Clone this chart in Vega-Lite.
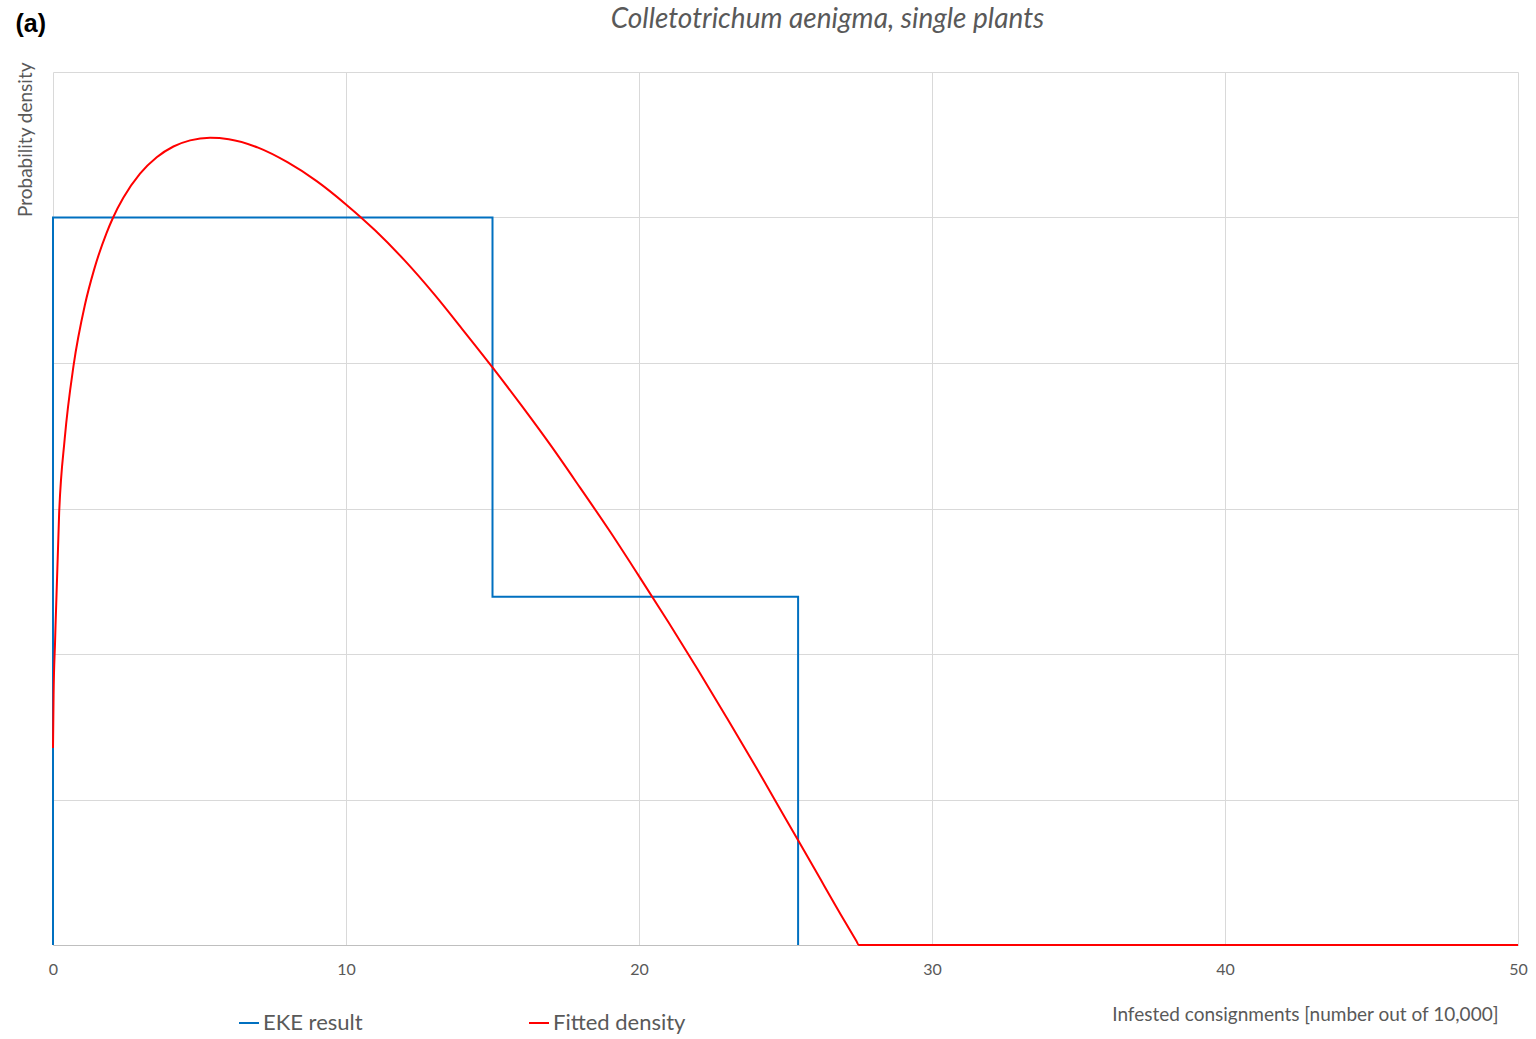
{
  "$schema": "https://vega.github.io/schema/vega-lite/v6.json",
  "width": 1465,
  "height": 873,
  "autosize": {"type": "none"},
  "padding": {"left": 53, "top": 72, "right": 18, "bottom": 94},
  "background": "white",
  "config": {"view": {"stroke": null}, "font": "Lato"},
  "title": {
    "text": "Colletotrichum aenigma, single plants",
    "font": "Lato",
    "fontStyle": "italic",
    "fontWeight": "normal",
    "fontSize": 28,
    "color": "#595959",
    "anchor": "middle",
    "baseline": "bottom",
    "dx": 42,
    "offset": -51
  },
  "datasets": {
    "curves": [
      {"series": "EKE result", "ord": 1, "x": 0, "y": 0},
      {"series": "EKE result", "ord": 2, "x": 0, "y": 5.0},
      {"series": "EKE result", "ord": 3, "x": 15, "y": 5.0},
      {"series": "EKE result", "ord": 4, "x": 15, "y": 2.394},
      {"series": "EKE result", "ord": 5, "x": 25.43, "y": 2.394},
      {"series": "EKE result", "ord": 6, "x": 25.43, "y": 0},
      {"series": "Fitted density", "ord": 1, "x": 0, "y": 1.354},
      {"series": "Fitted density", "ord": 2, "x": 0.02, "y": 1.72},
      {"series": "Fitted density", "ord": 3, "x": 0.07, "y": 2.08},
      {"series": "Fitted density", "ord": 4, "x": 0.21, "y": 2.97},
      {"series": "Fitted density", "ord": 5, "x": 0.4, "y": 3.48},
      {"series": "Fitted density", "ord": 6, "x": 0.7, "y": 3.98},
      {"series": "Fitted density", "ord": 7, "x": 1.09, "y": 4.4},
      {"series": "Fitted density", "ord": 8, "x": 1.4, "y": 4.64},
      {"series": "Fitted density", "ord": 9, "x": 1.83, "y": 4.895},
      {"series": "Fitted density", "ord": 10, "x": 2.04, "y": 4.995},
      {"series": "Fitted density", "ord": 11, "x": 2.4, "y": 5.135},
      {"series": "Fitted density", "ord": 12, "x": 2.97, "y": 5.301},
      {"series": "Fitted density", "ord": 13, "x": 3.54, "y": 5.414},
      {"series": "Fitted density", "ord": 14, "x": 4.11, "y": 5.488},
      {"series": "Fitted density", "ord": 15, "x": 4.68, "y": 5.53},
      {"series": "Fitted density", "ord": 16, "x": 5.36, "y": 5.548},
      {"series": "Fitted density", "ord": 17, "x": 6, "y": 5.538},
      {"series": "Fitted density", "ord": 18, "x": 7, "y": 5.48},
      {"series": "Fitted density", "ord": 19, "x": 8, "y": 5.38},
      {"series": "Fitted density", "ord": 20, "x": 9, "y": 5.25},
      {"series": "Fitted density", "ord": 21, "x": 10, "y": 5.09},
      {"series": "Fitted density", "ord": 22, "x": 11, "y": 4.91},
      {"series": "Fitted density", "ord": 23, "x": 12, "y": 4.705},
      {"series": "Fitted density", "ord": 24, "x": 13, "y": 4.475},
      {"series": "Fitted density", "ord": 25, "x": 14, "y": 4.225},
      {"series": "Fitted density", "ord": 26, "x": 15, "y": 3.97},
      {"series": "Fitted density", "ord": 27, "x": 16, "y": 3.705},
      {"series": "Fitted density", "ord": 28, "x": 17, "y": 3.43},
      {"series": "Fitted density", "ord": 29, "x": 18, "y": 3.14},
      {"series": "Fitted density", "ord": 30, "x": 19, "y": 2.845},
      {"series": "Fitted density", "ord": 31, "x": 20, "y": 2.535},
      {"series": "Fitted density", "ord": 32, "x": 21, "y": 2.22},
      {"series": "Fitted density", "ord": 33, "x": 22, "y": 1.895},
      {"series": "Fitted density", "ord": 34, "x": 23, "y": 1.56},
      {"series": "Fitted density", "ord": 35, "x": 24, "y": 1.22},
      {"series": "Fitted density", "ord": 36, "x": 25, "y": 0.87},
      {"series": "Fitted density", "ord": 37, "x": 26, "y": 0.52},
      {"series": "Fitted density", "ord": 38, "x": 27, "y": 0.17},
      {"series": "Fitted density", "ord": 39, "x": 27.42, "y": 0.027},
      {"series": "Fitted density", "ord": 40, "x": 27.5, "y": 0},
      {"series": "Fitted density", "ord": 41, "x": 50, "y": 0}
    ]
  },
  "data": {"name": "curves"},
  "resolve": {"axis": {"x": "independent"}},
  "layer": [
    {
      "transform": [{"filter": "datum.series === 'EKE result'"}],
      "mark": {"type": "line", "strokeWidth": 2, "clip": false},
      "encoding": {
        "x": {
          "field": "x", "type": "quantitative",
          "scale": {"domain": [0, 50], "nice": false, "zero": false},
          "axis": {
            "values": [0, 10, 20, 30, 40, 50],
            "grid": true, "gridColor": "#d9d9d9", "gridWidth": 1,
            "domain": true, "domainColor": "#bfbfbf", "domainWidth": 1,
            "ticks": false,
            "labelFont": "Lato", "labelFontSize": 16, "labelColor": "#595959",
            "labelPadding": 16, "labelFlush": false,
            "title": "Infested consignments [number out of 10,000]",
            "titleFont": "Lato", "titleFontSize": 19, "titleFontWeight": "normal",
            "titleColor": "#595959",
            "titleAnchor": null, "titleAlign": "right", "titleBaseline": "middle",
            "titleX": 1445, "titleY": 69
          }
        },
        "y": {
          "field": "y", "type": "quantitative",
          "scale": {"domain": [0, 6], "nice": false},
          "axis": {
            "values": [0, 1, 2, 3, 4, 5, 6],
            "grid": true, "gridColor": "#d9d9d9", "gridWidth": 1,
            "domain": false, "ticks": false, "labels": false,
            "title": "Probability density",
            "titleFont": "Lato", "titleFontSize": 19, "titleFontWeight": "normal",
            "titleColor": "#595959",
            "titleAnchor": null, "titleAngle": -90, "titleAlign": "right", "titleBaseline": "middle",
            "titleX": -28, "titleY": -10
          }
        },
        "order": {"field": "ord", "type": "quantitative"},
        "color": {
          "field": "series", "type": "nominal",
          "scale": {"domain": ["EKE result", "Fitted density"], "range": ["#0070C0", "#FF0000"]},
          "legend": {
            "title": null,
            "orient": "none",
            "direction": "horizontal",
            "columns": 2,
            "legendX": 185,
            "legendY": 940,
            "symbolType": "stroke",
            "symbolSize": 400,
            "symbolStrokeWidth": 2,
            "labelFont": "Lato",
            "labelFontSize": 22,
            "labelColor": "#595959",
            "labelOffset": 3,
            "columnPadding": 162
          }
        }
      }
    },
    {
      "transform": [{"filter": "datum.series === 'Fitted density'"}],
      "mark": {"type": "line", "strokeWidth": 2, "clip": false, "interpolate": "monotone"},
      "encoding": {
        "x": {
          "field": "x", "type": "quantitative",
          "axis": {
            "orient": "top",
            "grid": false, "domain": false, "ticks": false, "labels": false,
            "title": "(a)",
            "titleFont": "Liberation Sans", "titleFontSize": 25, "titleFontWeight": "bold",
            "titleColor": "#000000",
            "titleAnchor": null, "titleAlign": "left", "titleBaseline": "middle",
            "titleX": -38, "titleY": -49
          }
        },
        "y": {"field": "y", "type": "quantitative"},
        "order": {"field": "ord", "type": "quantitative"},
        "color": {"field": "series", "type": "nominal"}
      }
    }
  ]
}
